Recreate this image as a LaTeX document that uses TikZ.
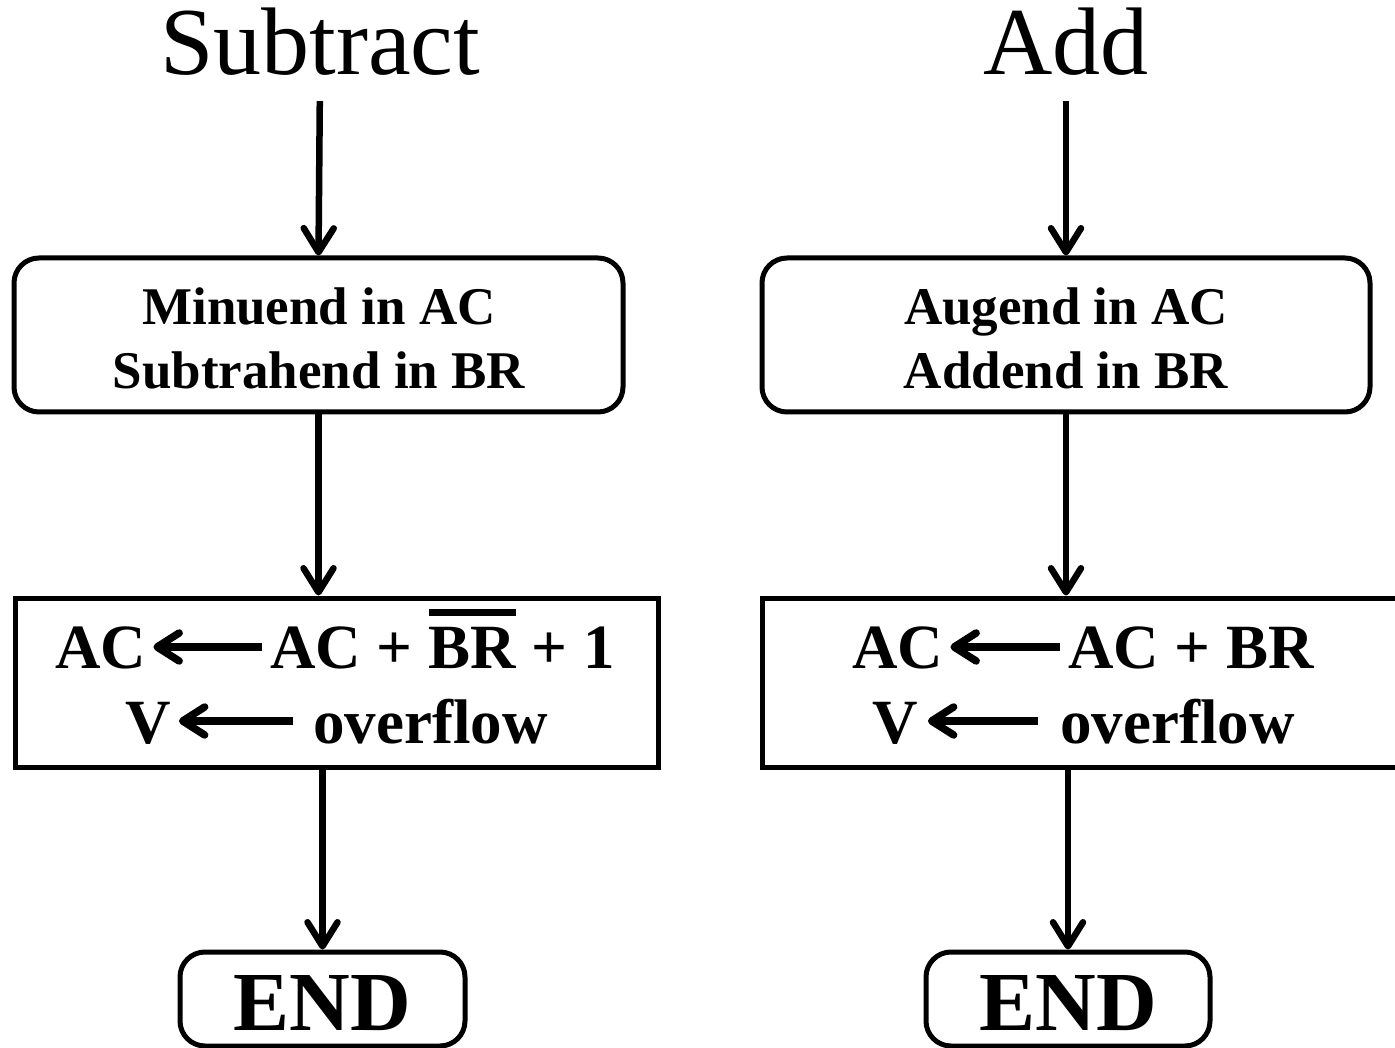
\documentclass[tikz,border=0pt]{standalone}
\usepackage{fontspec}
\setmainfont{Liberation Serif}
\usetikzlibrary{arrows.meta}
% bar drawn over a group of letters (complement)
\newcommand\barover[1]{\setbox0\hbox{#1}\rlap{\rule[52pt]{\wd0}{7pt}}\box0{}}
\begin{document}
\begin{tikzpicture}[x=1pt,y=-1pt,
  title/.style={font=\fontsize{96}{110}\selectfont, inner sep=0pt, anchor=base},
  rbox/.style={draw, line width=5pt, rounded corners=25pt, inner sep=0pt},
  sbox/.style={draw, line width=5pt, inner sep=0pt},
  boxtxt/.style={font=\bfseries\fontsize{53}{65}\selectfont, inner sep=0pt, anchor=base},
  optxt/.style={font=\bfseries\fontsize{63}{75}\selectfont, inner sep=0pt, anchor=base west},
  endtxt/.style={font=\bfseries\fontsize{84}{100}\selectfont, inner sep=0pt, anchor=base},
  conn/.style={line width=6.5pt, -{Straight Barb[length=24pt,width=30pt,round]}},
  inarrow/.style={line width=7.5pt, -{Straight Barb[length=22pt,width=28pt,round]}}]
\useasboundingbox (0,0) rectangle (1395,1048);
\clip (0,0) rectangle (1395,1048);

% titles
\node[title] (subT) at (320,75) {Subtract};
\node[title] (addT) at (1066,75) {Add};

% operand boxes
\node[rbox, minimum width=609pt, minimum height=154pt] (inL) at (318.5,335) {};
\node[rbox, minimum width=608pt, minimum height=154pt] (inR) at (1066,335) {};
\node[boxtxt] at (319,325) {Minuend in AC};
\node[boxtxt] at (319,389) {Subtrahend in BR};
\node[boxtxt] at (1066,325) {Augend in AC};
\node[boxtxt] at (1066,389) {Addend in BR};

% operation boxes
\node[sbox, minimum width=643pt, minimum height=169pt] (opL) at (336.5,682.5) {};
\node[sbox, minimum width=640pt, minimum height=169pt] (opR) at (1082,682.5) {};

% left operation text
\node[optxt] (l1a) at (55,668) {AC};
\node[optxt] (l1b) at (270,668) {AC + \barover{BR} + 1};
\node[optxt] (l2a) at (125,743) {V};
\node[optxt] (l2b) at (313,743) {overflow};
\draw[inarrow, shorten <=8pt, shorten >=7pt]
  ([yshift=21pt]l1b.base west) -- ([yshift=21pt]l1a.base east);
\draw[inarrow, shorten <=20pt, shorten >=8pt]
  ([yshift=22pt]l2b.base west) -- ([yshift=22pt]l2a.base east);

% right operation text
\node[optxt] (r1a) at (852,668) {AC};
\node[optxt] (r1b) at (1068,668) {AC + BR};
\node[optxt] (r2a) at (872,743) {V};
\node[optxt] (r2b) at (1060,743) {overflow};
\draw[inarrow, shorten <=8pt, shorten >=7pt]
  ([yshift=21pt]r1b.base west) -- ([yshift=21pt]r1a.base east);
\draw[inarrow, shorten <=22pt, shorten >=10pt]
  ([yshift=22pt]r2b.base west) -- ([yshift=22pt]r2a.base east);

% end boxes
\node[rbox, minimum width=285pt, minimum height=94pt] (endL) at (322.5,999) {};
\node[rbox, minimum width=284pt, minimum height=94pt] (endR) at (1068,999) {};
\node[endtxt] at (322.5,1030) {END};
\node[endtxt] at (1068,1030) {END};

% flow connectors
\draw[conn, shorten <=25pt] (subT.south) -- (inL.north);
\draw[conn, shorten <=25pt] (addT.south) -- (inR.north);
\draw[conn] (inL.south) -- (inL.south |- opL.north);
\draw[conn] (inR.south) -- (inR.south |- opR.north);
\draw[conn] (endL.north |- opL.south) -- (endL.north);
\draw[conn] (endR.north |- opR.south) -- (endR.north);
\end{tikzpicture}
\end{document}
